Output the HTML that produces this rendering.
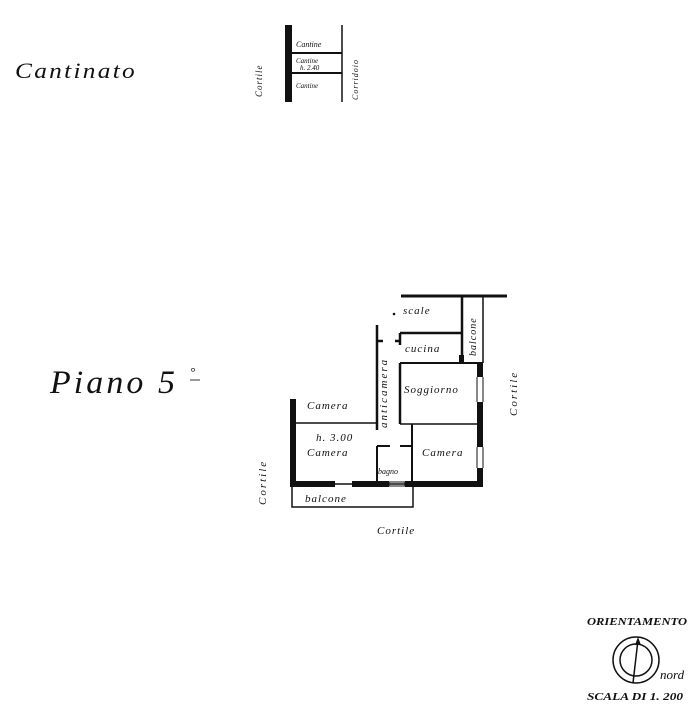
<!DOCTYPE html>
<html><head><meta charset="utf-8"><style>
html,body{margin:0;padding:0;background:#fff;}
svg{display:block;}
text{font-family:"Liberation Serif",serif;font-style:italic;fill:#111;}
</style></head><body>
<svg width="699" height="706" viewBox="0 0 699 706" xmlns="http://www.w3.org/2000/svg">
<!-- Titles -->
<text x="15" y="78" font-size="22" letter-spacing="2" textLength="122" lengthAdjust="spacingAndGlyphs" fill="#222">Cantinato</text>
<text x="50" y="393" font-size="33" letter-spacing="3" textLength="128" lengthAdjust="spacingAndGlyphs" fill="#333">Piano 5</text>
<text x="190" y="376" font-size="13" fill="#333">°</text>
<line x1="190" y1="380" x2="200" y2="380" stroke="#333" stroke-width="1"/>

<!-- Cantinato plan -->
<rect x="285" y="25" width="7" height="77" fill="#111"/>
<line x1="342" y1="25" x2="342" y2="102" stroke="#111" stroke-width="1.5"/>
<line x1="292" y1="53" x2="342" y2="53" stroke="#111" stroke-width="2"/>
<line x1="292" y1="73" x2="342" y2="73" stroke="#111" stroke-width="2"/>
<text x="296" y="47" font-size="8">Cantine</text>
<text x="296" y="63" font-size="7">Cantine</text>
<text x="300" y="70" font-size="7">h. 2.40</text>
<text x="296" y="88" font-size="7">Cantine</text>
<text transform="translate(262,97) rotate(-90)" font-size="9" letter-spacing="1">Cortile</text>
<text transform="translate(358,100) rotate(-90)" font-size="8" letter-spacing="1">Corridoio</text>

<!-- Piano 5 plan -->
<g stroke="#111" fill="none">
<line x1="401" y1="296" x2="507" y2="296" stroke-width="3"/>
<line x1="462" y1="296" x2="462" y2="362" stroke-width="2.5"/>
<line x1="483" y1="296" x2="483" y2="363" stroke-width="1.5"/>
<line x1="377" y1="325" x2="377" y2="430" stroke-width="2.5"/>
<line x1="377" y1="341" x2="383" y2="341" stroke-width="2.5"/>
<line x1="395" y1="341" x2="400" y2="341" stroke-width="2.5"/>
<line x1="400" y1="333" x2="462" y2="333" stroke-width="2.5"/>
<line x1="400" y1="333" x2="400" y2="345" stroke-width="2.5"/>
<line x1="400" y1="363" x2="400" y2="424" stroke-width="2.5"/>
<line x1="400" y1="363" x2="483" y2="363" stroke-width="2"/>
<line x1="400" y1="424" x2="480" y2="424" stroke-width="1.5"/>
<line x1="412" y1="424" x2="412" y2="484" stroke-width="2"/>
<line x1="293" y1="423" x2="377" y2="423" stroke-width="1.5"/>
<line x1="377" y1="446" x2="377" y2="484" stroke-width="2"/>
<line x1="377" y1="446" x2="390" y2="446" stroke-width="2"/>
<line x1="400" y1="446" x2="412" y2="446" stroke-width="2"/>
<rect x="292" y="484" width="121" height="23" stroke-width="1.5"/>
</g>
<!-- thick walls -->
<rect x="290" y="399" width="6" height="87" fill="#111"/>
<rect x="290" y="481" width="45" height="6" fill="#111"/>
<rect x="352" y="481" width="37" height="6" fill="#111"/>
<rect x="405" y="481" width="78" height="6" fill="#111"/>
<rect x="389" y="482" width="16" height="4" fill="none" stroke="#111" stroke-width="1"/>
<rect x="477" y="363" width="6" height="14" fill="#111"/>
<rect x="477" y="402" width="6" height="45" fill="#111"/>
<rect x="477" y="468" width="6" height="19" fill="#111"/>
<g stroke="#111" stroke-width="1"><line x1="477" y1="377" x2="477" y2="402"/><line x1="483" y1="377" x2="483" y2="402"/><line x1="477" y1="447" x2="477" y2="468"/><line x1="483" y1="447" x2="483" y2="468"/></g>
<rect x="459" y="355" width="5" height="9" fill="#111"/>
<circle cx="394" cy="314" r="1.3" fill="#111"/>

<g font-size="11" letter-spacing="1">
<text x="403" y="314">scale</text>
<text x="405" y="352">cucina</text>
<text x="404" y="393">Soggiorno</text>
<text x="307" y="409">Camera</text>
<text x="316" y="441">h. 3.00</text>
<text x="307" y="456">Camera</text>
<text x="422" y="456">Camera</text>
<text x="378" y="474" font-size="8" letter-spacing="0">bagno</text>
<text x="305" y="502">balcone</text>
<text x="377" y="534">Cortile</text>
<text transform="translate(387,428) rotate(-90)" letter-spacing="2">anticamera</text>
<text transform="translate(476,356) rotate(-90)" font-size="10">balcone</text>
<text transform="translate(517,416) rotate(-90)" letter-spacing="2">Cortile</text>
<text transform="translate(266,505) rotate(-90)" letter-spacing="2">Cortile</text>
</g>

<!-- orientation -->
<text x="587" y="625" font-size="11" font-weight="bold" textLength="100" lengthAdjust="spacingAndGlyphs">ORIENTAMENTO</text>
<circle cx="636" cy="660" r="23" fill="none" stroke="#111" stroke-width="1.5"/>
<circle cx="636" cy="660" r="16" fill="none" stroke="#111" stroke-width="1.5"/>
<line x1="638" y1="640" x2="633" y2="683" stroke="#111" stroke-width="1.5"/>
<polygon points="638,637 635,645 641,645" fill="#111"/>
<text x="660" y="679" font-size="13">nord</text>
<text x="587" y="700" font-size="10" font-weight="bold" textLength="96" lengthAdjust="spacingAndGlyphs">SCALA DI 1. 200</text>
</svg>
</body></html>
